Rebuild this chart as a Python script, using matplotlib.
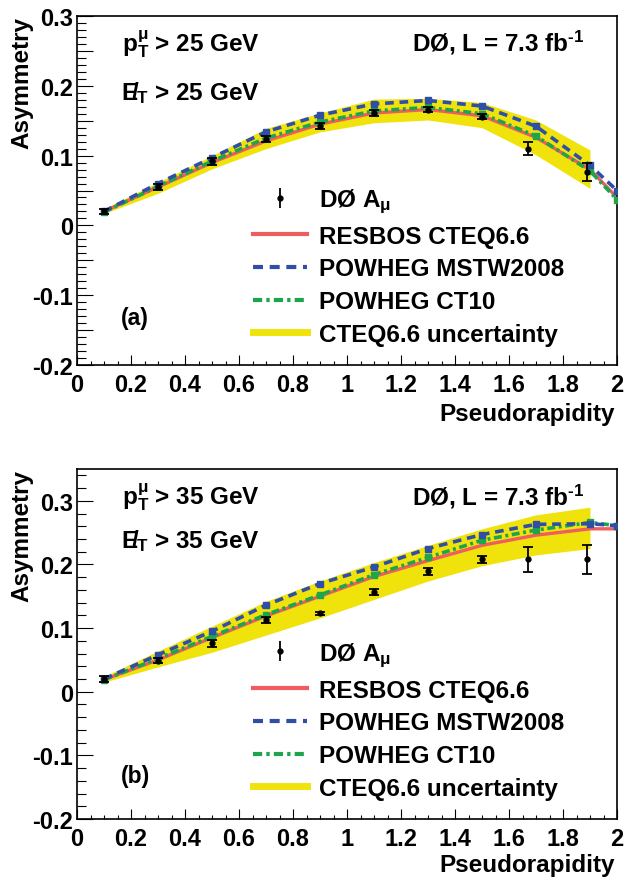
import matplotlib
matplotlib.use('Agg')
import matplotlib.pyplot as plt
from matplotlib.ticker import MultipleLocator, FuncFormatter
from matplotlib.lines import Line2D

plt.rcParams['font.family'] = ['Liberation Sans', 'DejaVu Sans']
plt.rcParams['font.weight'] = 'bold'
plt.rcParams['axes.labelweight'] = 'bold'
plt.rcParams['mathtext.fontset'] = 'custom'
plt.rcParams['mathtext.rm'] = 'Liberation Sans:bold'
plt.rcParams['mathtext.it'] = 'Liberation Sans:bold'
plt.rcParams['mathtext.bf'] = 'Liberation Sans:bold'
plt.rcParams['axes.unicode_minus'] = False

# measured points (bin centres)
eta_data = [0.1, 0.3, 0.5, 0.7, 0.9, 1.1, 1.3, 1.5, 1.67, 1.89]
# predictions, last value read at the frame edge
eta_theory = [0.1, 0.3, 0.5, 0.7, 0.9, 1.1, 1.3, 1.5, 1.7, 1.9, 2.0]
eta_band = [0.1, 0.3, 0.5, 0.7, 0.9, 1.1, 1.3, 1.5, 1.7, 1.9]

# panel (a): pT > 25 GeV
a_data = [0.020, 0.055, 0.092, 0.124, 0.142, 0.161, 0.166, 0.156, 0.110, 0.077]
a_err = [0.003, 0.004, 0.005, 0.004, 0.004, 0.004, 0.003, 0.004, 0.009, 0.013]
a_resbos = [0.020, 0.055, 0.090, 0.121, 0.145, 0.161, 0.166, 0.157, 0.126, 0.080, 0.040]
a_mstw = [0.020, 0.060, 0.097, 0.134, 0.158, 0.174, 0.179, 0.171, 0.142, 0.086, 0.050]
a_ct10 = [0.019, 0.056, 0.092, 0.125, 0.148, 0.164, 0.169, 0.160, 0.128, 0.078, 0.037]
a_band_lo = [0.017, 0.046, 0.081, 0.110, 0.134, 0.147, 0.151, 0.140, 0.101, 0.053]
a_band_hi = [0.024, 0.062, 0.100, 0.139, 0.161, 0.181, 0.182, 0.176, 0.151, 0.108]

# panel (b): pT > 35 GeV
b_data = [0.020, 0.049, 0.076, 0.113, 0.123, 0.157, 0.189, 0.208, 0.208, 0.208]
b_err = [0.004, 0.004, 0.005, 0.005, 0.003, 0.005, 0.006, 0.006, 0.020, 0.023]
b_resbos = [0.019, 0.050, 0.085, 0.119, 0.150, 0.181, 0.206, 0.230, 0.246, 0.256, 0.256]
b_mstw = [0.020, 0.058, 0.095, 0.136, 0.170, 0.196, 0.225, 0.247, 0.263, 0.264, 0.261]
b_ct10 = [0.019, 0.052, 0.087, 0.121, 0.152, 0.184, 0.211, 0.238, 0.254, 0.266, 0.261]
b_band_lo = [0.015, 0.039, 0.062, 0.089, 0.116, 0.145, 0.174, 0.198, 0.215, 0.225]
b_band_hi = [0.024, 0.064, 0.103, 0.142, 0.174, 0.203, 0.230, 0.256, 0.278, 0.290]

labels = ['DØ A$_{\\mu}$', 'RESBOS CTEQ6.6', 'POWHEG MSTW2008',
          'POWHEG CT10', 'CTEQ6.6 uncertainty']

YELLOW = '#f0e30c'
RED = '#ef5d5d'
BLUE = '#2f4fa6'
GREEN = '#1ea54b'
blue_dash = (2.4, 1.6)
green_dash = (2.2, 1.0, 0.8, 1.0)

fig = plt.figure(figsize=(6.34, 8.78), dpi=100)
ax_a = fig.add_axes([77/634, 1 - 366/878, 540/634, 349/878])
ax_b = fig.add_axes([77/634, 1 - 820/878, 540/634, 350/878])


def ylab(v, pos):
    if abs(round(v * 10) - v * 10) > 1e-6:
        return ''
    return '%g' % round(v, 2)


def draw(ax, data, err, resbos, mstw, ct10, lo, hi, ylim, ymaj, ymin,
         cut, tag, txt_y, tag_y, xlab_y):
    ax.fill_between(eta_band, lo, hi, color=YELLOW, lw=0, zorder=1)
    ax.plot(eta_theory, resbos, color=RED, lw=2.4, zorder=2)
    ax.plot(eta_theory, ct10, color=GREEN, lw=2.6, dashes=green_dash,
            marker='s', ms=4.8, zorder=3)
    ax.plot(eta_theory, mstw, color=BLUE, lw=2.6, dashes=blue_dash,
            marker='s', ms=4.8, zorder=4)
    ax.errorbar(eta_data, data, yerr=err, fmt='o', color='k', ms=3.5,
                elinewidth=1.3, capsize=3.5, capthick=1.3, zorder=5)

    ax.set_xlim(0, 2)
    ax.set_ylim(*ylim)
    ax.xaxis.set_major_locator(MultipleLocator(0.2))
    ax.xaxis.set_minor_locator(MultipleLocator(0.05))
    ax.xaxis.set_major_formatter(FuncFormatter(lambda v, p: '%g' % round(v, 2)))
    ax.yaxis.set_major_locator(MultipleLocator(ymaj))
    ax.yaxis.set_minor_locator(MultipleLocator(ymin))
    ax.yaxis.set_major_formatter(FuncFormatter(ylab))
    ax.tick_params(which='both', direction='in', top=False, right=False,
                   width=0.8, labelsize=17)
    ax.tick_params(axis='y', which='major', length=11.5, pad=3)
    ax.tick_params(axis='y', which='minor', length=6.2)
    ax.tick_params(axis='x', which='major', length=7, pad=6)
    ax.tick_params(axis='x', which='minor', length=3.2)
    for s in ax.spines.values():
        s.set_linewidth(1.2)

    ax.set_xlabel('Pseudorapidity', loc='right', fontsize=17.5)
    ax.xaxis.set_label_coords(0.996, xlab_y)
    ax.set_ylabel('Asymmetry', loc='top', fontsize=17.5)
    ax.yaxis.set_label_coords(-0.08, 1.0)

    ax.text(0.083, txt_y[0], '$\\mathrm{p}_{\\mathrm{T}}^{\\mu}$ > %d GeV' % cut,
            transform=ax.transAxes, fontsize=17.5, va='baseline')
    # missing transverse energy: slashed E in one string
    ax.text(0.083, txt_y[1],
            '$/\\!\\!\\!\\!\\!\\mathrm{E}_{\\mathrm{T}}$ > %d GeV' % cut,
            transform=ax.transAxes, fontsize=17.5, va='baseline')
    ax.text(0.94, txt_y[0], 'DØ, L = 7.3 fb$^{\\text{-1}}$',
            transform=ax.transAxes, fontsize=17.5, ha='right', va='baseline')
    ax.text(0.081, tag_y, tag, transform=ax.transAxes, fontsize=16.5,
            va='center')

    h_data = (Line2D([], [], color='k', marker='|', ms=14, mew=1.3, ls='none'),
              Line2D([], [], color='k', marker='o', ms=3.5, ls='none'))
    handles = [h_data,
               Line2D([], [], color=RED, lw=3),
               Line2D([], [], color=BLUE, lw=3, dashes=blue_dash),
               Line2D([], [], color=GREEN, lw=3, dashes=green_dash),
               Line2D([], [], color=YELLOW, lw=5)]
    ax.legend(handles, labels, loc='lower left', bbox_to_anchor=(0.326, 0.055),
              frameon=False, fontsize=17.5, handlelength=2.2, handletextpad=0.5,
              labelspacing=0.4, borderpad=0, borderaxespad=0)


draw(ax_a, a_data, a_err, a_resbos, a_mstw, a_ct10, a_band_lo, a_band_hi,
     (-0.2, 0.3), 0.05, 0.01, 25, '(a)', (0.90, 0.762), 0.1375, -0.105)
draw(ax_b, b_data, b_err, b_resbos, b_mstw, b_ct10, b_band_lo, b_band_hi,
     (-0.2, 0.35), 0.1, 0.02, 35, '(b)', (0.90, 0.777), 0.123, -0.097)

fig.savefig('out.png', dpi=100)
